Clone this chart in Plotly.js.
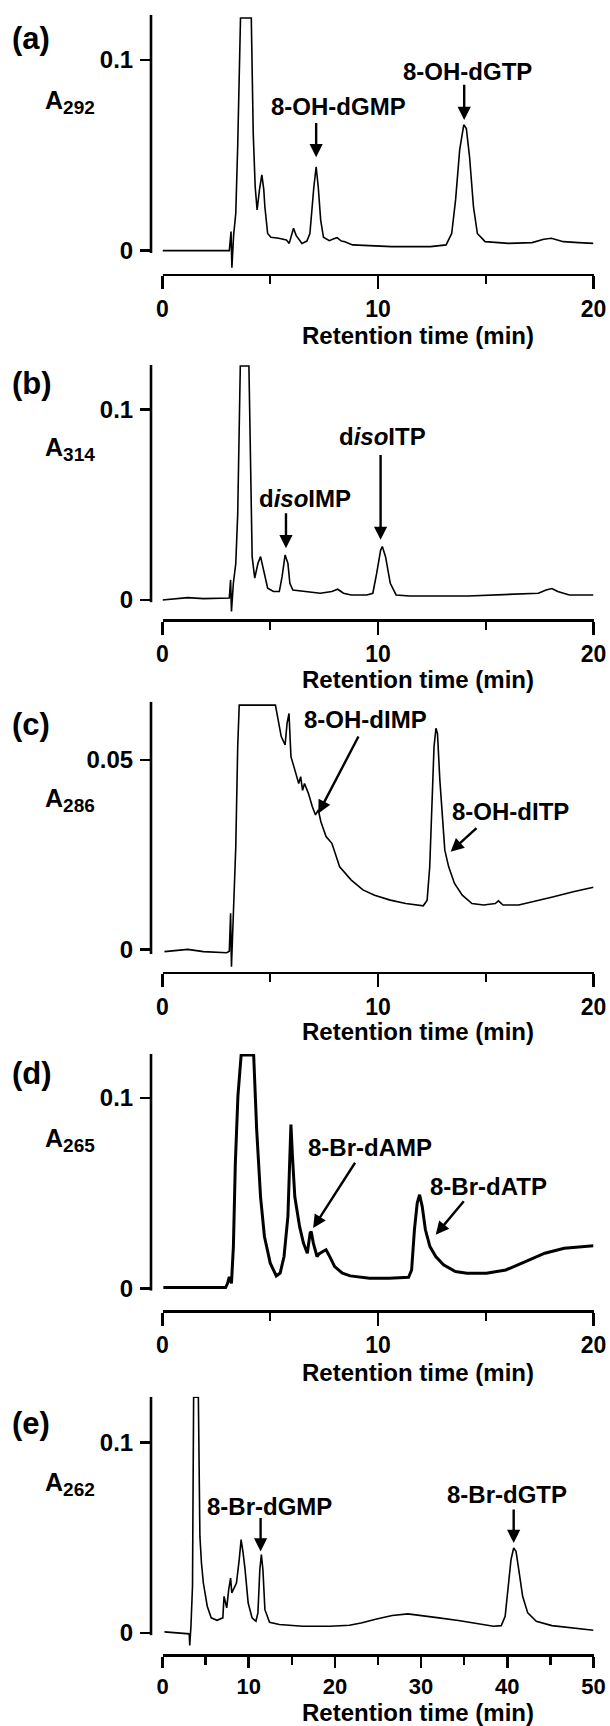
<!DOCTYPE html>
<html><head><meta charset="utf-8">
<script src="https://cdn.plot.ly/plotly-3.0.1.min.js"></script>
<style>html,body{margin:0;padding:0;background:#fff}#chart{width:610px;height:1726px}</style>
</head><body><div id="chart"></div>
<script>
// ---------------- DATA ----------------
const timeA = [0,1,2,3.1,3.18,3.22,3.3,3.4,3.49,3.58,3.62,4.12,4.16,4.21,4.3,4.39,4.5,4.61,4.7,4.75,4.88,5.03,5.39,5.75,5.88,6.0,6.08,6.2,6.47,6.7,6.84,7.02,7.13,7.23,7.34,7.47,7.74,7.95,8.1,8.3,8.46,8.82,9.73,10.63,12.44,13.16,13.42,13.6,13.79,13.98,14.1,14.25,14.43,14.61,14.97,16.06,17.15,17.69,18.05,18.6,19.3,20];
const absA  = [0,0,0,0,0.010,-0.009,0.008,0.0196,0.055,0.11,0.122,0.122,0.09,0.0615,0.0336,0.0213,0.032,0.0397,0.032,0.023,0.009,0.007,0.0065,0.0056,0.0038,0.009,0.0117,0.008,0.0038,0.005,0.009,0.033,0.044,0.033,0.016,0.007,0.0052,0.0062,0.0068,0.005,0.0047,0.003,0.0024,0.0021,0.0021,0.003,0.009,0.0266,0.0528,0.066,0.064,0.049,0.023,0.009,0.0047,0.0038,0.0042,0.006,0.0065,0.0047,0.0042,0.0038];

const timeB = [0,0.81,1.17,1.9,2.98,3.1,3.16,3.2,3.29,3.4,3.49,3.56,3.61,4.01,4.07,4.16,4.28,4.43,4.55,4.7,4.88,5.15,5.42,5.55,5.69,5.82,5.91,6.05,6.59,7.32,7.86,8.13,8.4,8.76,9.48,9.76,9.94,10.12,10.2,10.35,10.57,10.84,11.47,14.18,17.44,17.8,18.07,18.34,18.88,20];
const absB  = [0,0.0009,0.0012,0.0007,0.0007,0.001,0.0105,-0.006,0.009,0.019,0.045,0.089,0.1227,0.1227,0.0717,0.0227,0.0114,0.0192,0.0227,0.0157,0.0061,0.0044,0.0044,0.0122,0.0236,0.0192,0.0087,0.0052,0.0044,0.0035,0.0044,0.0056,0.0035,0.0026,0.0026,0.0035,0.014,0.026,0.028,0.0227,0.0087,0.0026,0.0021,0.0021,0.0035,0.0052,0.006,0.0044,0.0026,0.0026];

const timeC = [0.09,1.17,1.9,2.98,3.1,3.16,3.2,3.31,3.4,3.49,3.56,5.24,5.37,5.51,5.69,5.78,5.87,5.96,6.14,6.32,6.41,6.5,6.59,6.77,6.95,7.1,7.23,7.35,7.59,7.86,8.22,8.76,9.3,9.84,10.57,11.29,12.1,12.28,12.4,12.51,12.6,12.69,12.76,12.87,13.0,13.1,13.28,13.55,13.91,14.36,14.9,15.44,15.59,15.8,16.53,17.25,18.15,19.06,20];
const absC  = [-0.0006,0,-0.0006,-0.0009,-0.0005,0.0095,-0.0046,0.0104,0.027,0.0535,0.0645,0.0645,0.0606,0.0562,0.054,0.0597,0.0623,0.0509,0.0474,0.0438,0.0456,0.042,0.0438,0.0412,0.0377,0.0355,0.0368,0.0337,0.0298,0.028,0.0218,0.0183,0.0157,0.0143,0.013,0.0121,0.0115,0.013,0.0218,0.0403,0.0535,0.0584,0.057,0.0447,0.0342,0.0262,0.0218,0.0174,0.0143,0.0121,0.0117,0.0121,0.0128,0.0117,0.0117,0.0126,0.0139,0.0152,0.0164];

const timeD = [0.04,2.93,3.02,3.1,3.2,3.29,3.38,3.5,3.65,4.23,4.37,4.55,4.73,5.0,5.28,5.46,5.64,5.82,5.91,5.96,6.03,6.14,6.36,6.54,6.72,6.85,6.9,7.0,7.17,7.26,7.44,7.59,7.72,7.99,8.35,8.71,9.61,10.51,11.42,11.56,11.69,11.82,11.93,12.05,12.2,12.41,12.68,13.04,13.59,14.13,15.03,15.93,16.84,17.74,18.64,19.55,20];
const absD  = [0.0004,0.0004,0.0026,0.006,0.0026,0.022,0.0658,0.101,0.1225,0.1225,0.0833,0.048,0.0272,0.0132,0.0065,0.008,0.0167,0.0377,0.0693,0.086,0.0693,0.048,0.0325,0.0237,0.0184,0.029,0.0298,0.0237,0.0167,0.018,0.0193,0.0202,0.0175,0.0114,0.0079,0.0065,0.0053,0.0053,0.0058,0.0096,0.0307,0.0447,0.0491,0.043,0.0307,0.0219,0.0167,0.0123,0.0088,0.0079,0.0079,0.0096,0.014,0.0184,0.021,0.0219,0.0223];

const timeE = [0.23,1.36,3.1,3.16,3.3,3.48,3.61,4.16,4.25,4.34,4.52,4.74,5.19,5.65,6.32,7.0,7.14,7.32,7.45,7.68,7.9,8.04,8.27,8.58,8.9,9.12,9.35,9.58,9.94,10.39,10.84,11.07,11.29,11.47,11.65,11.88,12.42,13.55,16.26,19.42,21.68,23.04,24.84,26.65,28.46,30.26,32.07,34.33,36.59,38.4,39.3,39.75,40.11,40.43,40.74,41.01,41.33,41.78,42.37,43.36,45.17,47.43,50];
const absE  = [0.0005,0,-0.0005,-0.0066,0.0035,0.0245,0.1238,0.1238,0.0865,0.0507,0.0367,0.0262,0.014,0.0079,0.0066,0.0079,0.0192,0.0157,0.0131,0.0227,0.0288,0.021,0.0236,0.0262,0.0385,0.049,0.042,0.0332,0.0157,0.0079,0.0061,0.0105,0.0332,0.0411,0.0332,0.0122,0.0056,0.0044,0.0035,0.0035,0.004,0.0052,0.0073,0.0091,0.01,0.0091,0.0079,0.0065,0.0049,0.0035,0.0038,0.0087,0.0245,0.0385,0.0446,0.0428,0.0332,0.0192,0.0105,0.0061,0.0038,0.0026,0.0014];

const panelLetters = ['(a)','(b)','(c)','(d)','(e)'];
const wavelengths  = ['292','314','286','265','262'];
const yTickVals  = [[0,0.1],[0,0.1],[0,0.05],[0,0.1],[0,0.1]];
const yTickText  = [['0','0.1'],['0','0.1'],['0','0.05'],['0','0.1'],['0','0.1']];
const xMajorTicks = [[0,10,20],[0,10,20],[0,10,20],[0,10,20],[0,10,20,30,40,50]];
const xRanges = [[0,20],[0,20],[0,20],[0,20],[0,50]];
const peakNames = [
  ['8-OH-dGMP','8-OH-dGTP'],
  ['d<i>iso</i>IMP','d<i>iso</i>ITP'],
  ['8-OH-dIMP','8-OH-dITP'],
  ['8-Br-dAMP','8-Br-dATP'],
  ['8-Br-dGMP','8-Br-dGTP']
];
const xTitleText = 'Retention time (min)';

const times = [timeA,timeB,timeC,timeD,timeE];
const absorb = [absA,absB,absC,absD,absE];

// ---------------- LAYOUT GEOMETRY (px) ----------------
const W = 610, H = 1726;
const FONT = 'Liberation Sans, Arial, Helvetica, sans-serif';
const geo = [
  {top:15,    bottom:273.5,  ymin:-0.0120, ymax:0.1236, letterY:38,   labelY:102,  titleY:335,  lw:1.6, tickSize:23, tickLen:13},
  {top:365,   bottom:619,    ymin:-0.0100, ymax:0.1232, letterY:384,  labelY:449,  titleY:679,  lw:1.6, tickSize:23, tickLen:13},
  {top:701.7, bottom:971.7,  ymin:-0.0059, ymax:0.0654, letterY:724,  labelY:800,  titleY:1031, lw:1.6, tickSize:23, tickLen:13},
  {top:1054,  bottom:1310,   ymin:-0.0114, ymax:0.1230, letterY:1073, labelY:1140, titleY:1372, lw:3.0, tickSize:23, tickLen:13},
  {top:1396.7,bottom:1654,   ymin:-0.0111, ymax:0.1241, letterY:1423, labelY:1484, titleY:1712, lw:1.6, tickSize:22, tickLen:11}
];
// annotation placement: text centre (tx,ty), arrow tail (ax,ay) and head (hx,hy), in data units
const peakPlace = [
  [{tx:8.19,ty:0.0755,ax:7.13,ay:0.0677,hx:7.13,hy:0.049},{tx:14.16,ty:0.0939,ax:14.0,ay:0.0878,hx:14.0,hy:0.0685}],
  [{tx:6.59,ty:0.0533,ax:5.73,ay:0.0462,hx:5.73,hy:0.0271},{tx:10.2,ty:0.0857,ax:10.12,ay:0.0768,hx:10.12,hy:0.0315}],
  [{tx:9.40,ty:0.0606,ax:9.13,ay:0.0566,hx:7.23,hy:0.0359},{tx:16.17,ty:0.0364,ax:14.64,ay:0.0324,hx:13.37,hy:0.0258}],
  [{tx:9.61,ty:0.0737,ax:8.98,ay:0.0667,hx:6.99,hy:0.0316},{tx:15.12,ty:0.0535,ax:14.04,ay:0.0465,hx:12.68,hy:0.0281}],
  [{tx:12.42,ty:0.0664,ax:11.38,ay:0.0612,hx:11.38,hy:0.0428},{tx:39.97,ty:0.0726,ax:40.74,ay:0.0656,hx:40.74,hy:0.0472}]
];
const yAxisX = 151, plotL = 162.5, plotR = 593.5, titleX = 418, letterX = 10, ylabelX = 70;

const px = v => v / W;
const py = v => 1 - v / H;

const traces = [];
const layout = {
  width: W, height: H,
  margin: {l:0, r:0, t:0, b:0},
  paper_bgcolor: '#fff', plot_bgcolor: 'rgba(0,0,0,0)',
  showlegend: false,
  font: {family: FONT, color: '#000', size: 22, weight: 'bold'},
  annotations: [], shapes: []
};

const boldFont = (s) => ({family: FONT, size: s, color: '#000', weight: 'bold'});

for (let i = 0; i < 5; i++) {
  const n = i === 0 ? '' : String(i + 1);
  const xa = 'x' + n, ya = 'y' + n;
  const g = geo[i];
  traces.push({
    type: 'scatter', mode: 'lines', x: times[i], y: absorb[i],
    xaxis: xa, yaxis: ya,
    line: {color: '#000', width: g.lw, shape: 'linear'},
    hoverinfo: 'skip'
  });
  layout['xaxis' + n] = {
    domain: [px(plotL), px(plotR)], anchor: ya, range: xRanges[i],
    showgrid: false, zeroline: false,
    showline: true, linecolor: '#000', linewidth: 2.6,
    ticks: 'outside', ticklen: g.tickLen, tickwidth: 2.6, tickcolor: '#000',
    tickmode: 'array', tickvals: xMajorTicks[i], ticktext: xMajorTicks[i].map(String),
    tickfont: boldFont(g.tickSize), ticklabelstandoff: 0,
    minor: {ticks: 'outside', ticklen: 8, tickwidth: 2.4, tickcolor: '#000', dtick: 5, tick0: 0, showgrid: false},
    fixedrange: true
  };
  layout['yaxis' + n] = {
    domain: [py(g.bottom), py(g.top)], anchor: 'free', position: px(yAxisX),
    range: [g.ymin, g.ymax],
    showgrid: false, zeroline: false, showline: false,
    ticks: 'outside', ticklen: 11, tickwidth: 2.6, tickcolor: '#000',
    tickmode: 'array', tickvals: yTickVals[i], ticktext: yTickText[i],
    tickfont: boldFont(24), ticklabelstandoff: 2,
    fixedrange: true
  };
  // y axis line from 0 to top
  layout.shapes.push({
    type: 'line', xref: 'paper', yref: ya,
    x0: px(yAxisX), x1: px(yAxisX), y0: -0.0012, y1: g.ymax,
    line: {color: '#000', width: 2.6}
  });
  // panel letter
  layout.annotations.push({
    xref: 'paper', yref: 'paper', x: px(letterX), y: py(g.letterY),
    xanchor: 'left', yanchor: 'middle', showarrow: false,
    text: panelLetters[i], font: boldFont(31)
  });
  // y label
  layout.annotations.push({
    xref: 'paper', yref: 'paper', x: px(ylabelX), y: py(g.labelY),
    xanchor: 'center', yanchor: 'middle', showarrow: false,
    text: 'A<sub><span style="font-size:19px">' + wavelengths[i] + '</span></sub>', font: boldFont(25)
  });
  // x title
  layout.annotations.push({
    xref: 'paper', yref: 'paper', x: px(titleX), y: py(g.titleY),
    xanchor: 'center', yanchor: 'middle', showarrow: false,
    text: xTitleText, font: boldFont(24)
  });
  // peak labels & arrows
  peakNames[i].forEach((name, k) => {
    const p = peakPlace[i][k];
    layout.annotations.push({
      xref: xa, yref: ya, x: p.tx, y: p.ty, xanchor: 'center', yanchor: 'middle',
      showarrow: false, text: name, font: boldFont(24)
    });
    layout.annotations.push({
      xref: xa, yref: ya, x: p.hx, y: p.hy, axref: xa, ayref: ya, ax: p.ax, ay: p.ay,
      showarrow: true, text: '', arrowhead: 2, arrowsize: 1.1, arrowwidth: 2.4,
      arrowcolor: '#000', standoff: 0, startstandoff: 0
    });
  });
}

Plotly.newPlot('chart', traces, layout, {staticPlot: true, displayModeBar: false});
</script>
</body></html>
